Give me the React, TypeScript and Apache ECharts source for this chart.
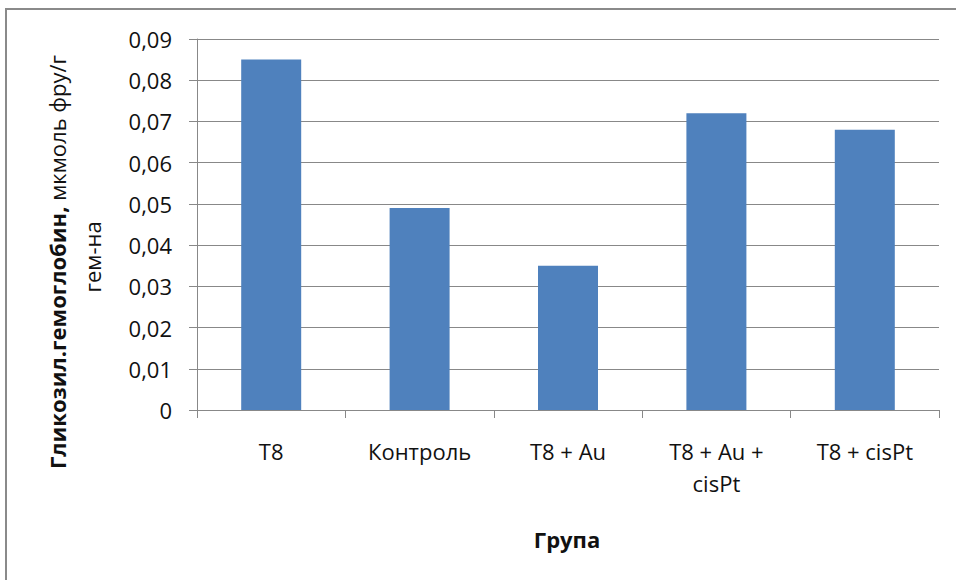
import React, { useEffect, useRef } from "react";
import * as echarts from "echarts";

const categories = ["T8", "Контроль", "T8 + Au", "T8 + Au +\ncisPt", "T8 + cisPt"];
const values = [0.085, 0.049, 0.035, 0.072, 0.068];
const yMin = 0;
const yMax = 0.09;
const yInterval = 0.01;
const yTitleBold = "Гликозил.гемоглобин,";
const yTitleNormal = " мкмоль фру/г";
const yTitleLine2 = "гем-на";
const xTitle = "Група";

const FONT = "'Open Sans', 'Noto Sans', sans-serif";

export default function App() {
  const ref = useRef<HTMLDivElement>(null);
  useEffect(() => {
    if (!ref.current) return;
    const chart = echarts.init(ref.current, null, { renderer: "svg" });
    chart.setOption({
      animation: false,
      backgroundColor: "#ffffff",
      grid: { left: 197, right: 17, top: 39, bottom: 170 },
      xAxis: {
        type: "category",
        data: categories,
        axisLine: { lineStyle: { color: "#888888", width: 1 } },
        axisTick: { show: true, length: 8, lineStyle: { color: "#888888" } },
        axisLabel: {
          color: "#111111",
          fontFamily: FONT,
          fontSize: 22,
          margin: 25,
          lineHeight: 32,
          interval: 0,
        },
      },
      yAxis: {
        type: "value",
        min: yMin,
        max: yMax,
        interval: yInterval,
        axisLine: { show: true, lineStyle: { color: "#888888", width: 1 } },
        axisTick: { show: true, length: 8, lineStyle: { color: "#888888" } },
        splitLine: { show: true, lineStyle: { color: "#888888", width: 1 } },
        axisLabel: {
          color: "#111111",
          fontFamily: FONT,
          fontSize: 22,
          margin: 25,
          formatter: (v: number) => (v === 0 ? "0" : v.toFixed(2).replace(".", ",")),
        },
      },
      series: [
        {
          type: "bar",
          data: values,
          barWidth: 60,
          itemStyle: { color: "#4f81bd" },
        },
      ],
      graphic: [
        {
          type: "rect",
          shape: { x: 6, y: 9, width: 1000, height: 1000 },
          style: { fill: "none", stroke: "#8a8a8a", lineWidth: 2 },
          silent: true,
        },
        {
          type: "text",
          x: 57,
          y: 262,
          rotation: Math.PI / 2,
          style: {
            text: "{b|" + yTitleBold + "}{n|" + yTitleNormal + "}",
            align: "center",
            verticalAlign: "middle",
            fill: "#111111",
            rich: {
              b: { fontFamily: FONT, fontSize: 22, fontWeight: "bold", fill: "#111111" },
              n: { fontFamily: FONT, fontSize: 22, fill: "#111111" },
            },
          },
        },
        {
          type: "text",
          x: 92,
          y: 257,
          rotation: Math.PI / 2,
          style: {
            text: yTitleLine2,
            align: "center",
            verticalAlign: "middle",
            fontFamily: FONT,
            fontSize: 22,
            fill: "#111111",
          },
        },
        {
          type: "text",
          x: 567,
          y: 539,
          style: {
            text: xTitle,
            align: "center",
            verticalAlign: "middle",
            fontFamily: FONT,
            fontSize: 22,
            fontWeight: "bold",
            fill: "#111111",
          },
        },
      ],
    });
    return () => chart.dispose();
  }, []);
  return <div ref={ref} style={{ width: 956, height: 580, position: "absolute", left: 0, top: 0 }} />;
}
